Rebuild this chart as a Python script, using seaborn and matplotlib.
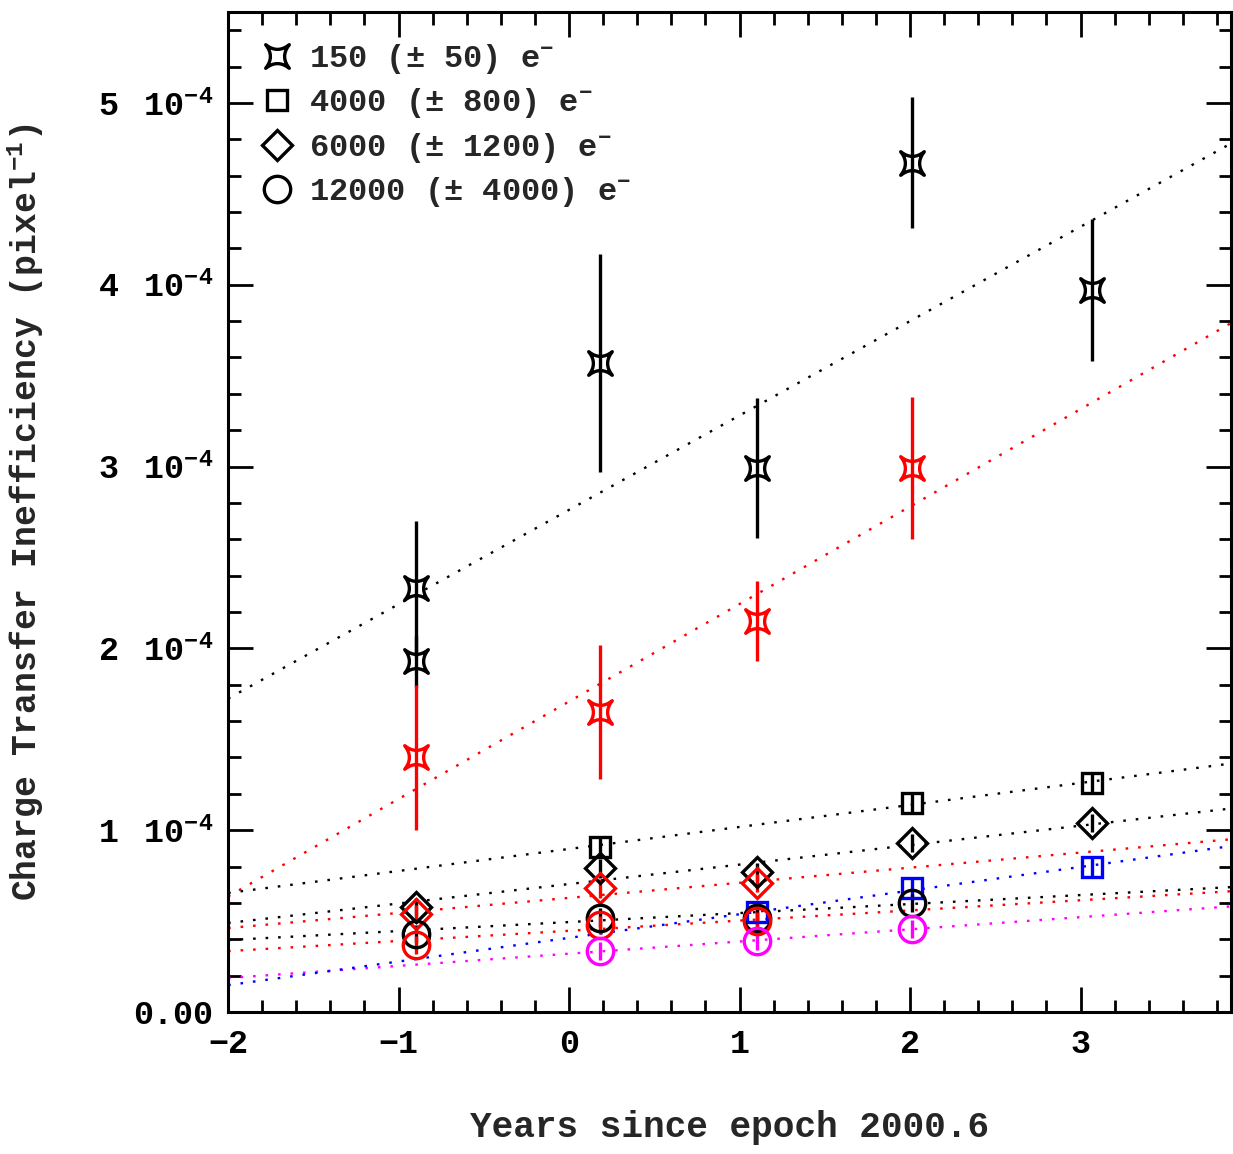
import numpy as np
import pandas as pd
import matplotlib
matplotlib.use("Agg")
import matplotlib.pyplot as plt
from matplotlib.path import Path
from matplotlib.lines import Line2D
import seaborn as sns

# ---------------- data (CTI in units of 1e-4 pixel^-1) ----------------
star_k_x = [-0.9, -0.9, 0.18, 1.1, 2.01, 3.07]
star_k_y = [2.33, 1.93, 3.57, 2.99, 4.67, 3.97]
star_k_e = [0.37, 0.14, 0.60, 0.385, 0.36, 0.39]

star_r_x = [-0.9, 0.18, 1.1, 2.01]
star_r_y = [1.40, 1.65, 2.15, 2.99]
star_r_e = [0.40, 0.37, 0.22, 0.39]

sq_k_x = [0.18, 2.01, 3.07]
sq_k_y = [0.91, 1.15, 1.26]

sq_b_x = [1.1, 2.01, 3.07]
sq_b_y = [0.55, 0.68, 0.80]

dm_k_x = [-0.9, 0.18, 1.1, 2.01, 3.07]
dm_k_y = [0.58, 0.79, 0.77, 0.93, 1.04]

dm_r_x = [-0.9, 0.18, 1.1]
dm_r_y = [0.54, 0.68, 0.71]

ci_k_x = [-0.9, 0.18, 1.1, 2.01]
ci_k_y = [0.43, 0.52, 0.52, 0.60]

ci_r_x = [-0.9, 0.18, 1.1]
ci_r_y = [0.37, 0.48, 0.50]

ci_m_x = [0.18, 1.1, 2.01]
ci_m_y = [0.335, 0.39, 0.456]

small_err = 0.05

# linear fits: slope (per year) and value at year 0, units 1e-4
fit_names = ["star_k", "star_r", "sq_k", "dm_k", "dm_r", "ci_k", "ci_r", "ci_m", "sq_b"]
fit_slope = [0.519, 0.536, 0.121, 0.107, 0.083, 0.0495, 0.056, 0.067, 0.130]
fit_icept = [2.762, 1.708, 0.897, 0.704, 0.628, 0.495, 0.447, 0.321, 0.408]
fit_color = ["black", "red", "black", "black", "red", "black", "red", "magenta", "blue"]

legend_labels = [r"150 (± 50) e$^{-}$", r"4000 (± 800) e$^{-}$",
                 r"6000 (± 1200) e$^{-}$", r"12000 (± 4000) e$^{-}$"]

y_tick_vals = [0, 1, 2, 3, 4, 5]
x_tick_vals = [-2, -1, 0, 1, 2, 3]

XMIN, XMAX = -2.0, 3.88
SCALE = 1e-4

# ---------------- style ----------------
sns.set_theme(style="ticks")
plt.rcParams["font.family"] = ["Liberation Mono", "DejaVu Sans"]
plt.rcParams["font.weight"] = "bold"
plt.rcParams["axes.labelweight"] = "bold"
plt.rcParams["mathtext.fontset"] = "custom"
plt.rcParams["mathtext.rm"] = "Liberation Mono:bold"
plt.rcParams["mathtext.it"] = "Liberation Mono:bold"
plt.rcParams["mathtext.bf"] = "Liberation Mono:bold"
plt.rcParams["mathtext.default"] = "rm"

# 4-pointed concave star marker
c = 0.2
star_path = Path(
    [(-1, 1), (0, c), (1, 1), (c, 0), (1, -1), (0, -c), (-1, -1), (-c, 0), (-1, 1), (-1, 1)],
    [Path.MOVETO, Path.CURVE3, Path.CURVE3, Path.CURVE3, Path.CURVE3,
     Path.CURVE3, Path.CURVE3, Path.CURVE3, Path.CURVE3, Path.CLOSEPOLY],
)

fig = plt.figure(figsize=(12.33, 11.54), dpi=100)
ax = fig.add_axes([0.185, 0.123, 0.813, 0.8666])

# fit lines
xg = np.array([XMIN, XMAX])
for name, s, b, col in zip(fit_names, fit_slope, fit_icept, fit_color):
    df = pd.DataFrame({"x": xg, "y": (b + s * xg) * SCALE})
    sns.lineplot(data=df, x="x", y="y", ax=ax, color=col, lw=1.7,
                 linestyle=(0, (1.1, 4.2)), zorder=2)

mew = 2.4
def pts(x, y, e, marker, color, ms):
    x = np.asarray(x); y = np.asarray(y) * SCALE
    e = np.asarray(e if np.ndim(e) else [e] * len(x)) * SCALE
    ax.errorbar(x, y, yerr=e, fmt="none", ecolor=color, elinewidth=2.4, capsize=0, zorder=3)
    ax.plot(x, y, linestyle="none", marker=marker, ms=ms, mfc="none", mec=color, mew=mew, zorder=4)

pts(star_k_x, star_k_y, star_k_e, star_path, "black", 17)
pts(star_r_x, star_r_y, star_r_e, star_path, "red", 17)
pts(sq_k_x, sq_k_y, small_err, "s", "black", 15)
pts(sq_b_x, sq_b_y, small_err, "s", "blue", 15)
pts(dm_k_x, dm_k_y, small_err, "D", "black", 15)
pts(dm_r_x, dm_r_y, small_err, "D", "red", 15)
pts(ci_k_x, ci_k_y, small_err, "o", "black", 19)
pts(ci_r_x, ci_r_y, small_err, "o", "red", 19)
pts(ci_m_x, ci_m_y, small_err, "o", "magenta", 19)

ax.set_xlim(XMIN, XMAX)
ax.set_ylim(0, 5.5e-4)

ax.set_xticks(x_tick_vals)
ax.set_xticklabels([("\u2212%d" % -v) if v < 0 else str(v) for v in x_tick_vals])
ax.set_xticks(np.arange(-2, 3.9, 0.2), minor=True)
ax.set_yticks([v * SCALE for v in y_tick_vals])
ax.set_yticklabels(["0.00" if v == 0 else r"%d $\;$10$^{-4}$" % v for v in y_tick_vals])
ax.set_yticks(np.arange(0, 5.51e-4, 0.2e-4), minor=True)

ax.tick_params(which="both", direction="in", top=True, right=True,
               labelsize=24, width=2, colors="black")
ax.tick_params(which="major", length=18)
ax.tick_params(axis="y", which="major", pad=11)
ax.tick_params(axis="x", which="major", pad=12)
ax.tick_params(which="minor", length=9)
for sp in ax.spines.values():
    sp.set_linewidth(2.2)
    sp.set_color("black")

ax.set_xlabel("Years since epoch 2000.6", fontsize=26)
ax.xaxis.set_label_coords(0.5, -0.098)
ax.set_ylabel(r"Charge Transfer Inefficiency (pixel$^{-1}$)", fontsize=25)
ax.yaxis.set_label_coords(-0.182, 0.5)

handles = [
    Line2D([], [], linestyle="none", marker=star_path, ms=17, mfc="none", mec="black", mew=mew),
    Line2D([], [], linestyle="none", marker="s", ms=15, mfc="none", mec="black", mew=mew),
    Line2D([], [], linestyle="none", marker="D", ms=15, mfc="none", mec="black", mew=mew),
    Line2D([], [], linestyle="none", marker="o", ms=19, mfc="none", mec="black", mew=mew),
]
ax.legend(handles, legend_labels, loc="upper left", bbox_to_anchor=(0.02, 0.983),
          frameon=False, fontsize=23, handlelength=1.0, handletextpad=0.5,
          labelspacing=0.33, borderaxespad=0.0)

fig.savefig("out.png", dpi=100)
